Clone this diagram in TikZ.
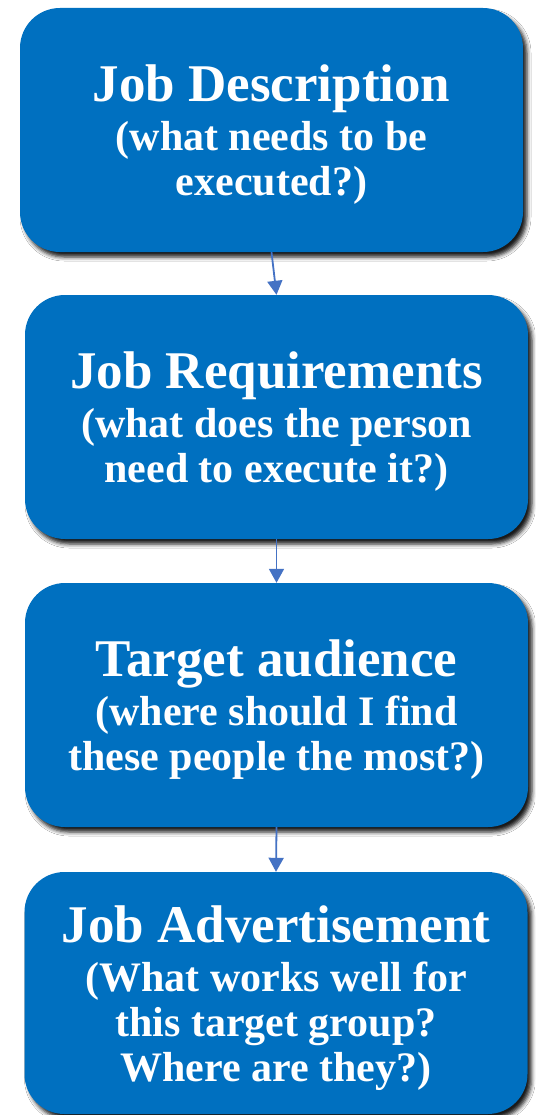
\documentclass[tikz,border=0pt]{standalone}
\usepackage{fontspec}
\setmainfont{Liberation Serif}
\usetikzlibrary{shadows.blur,arrows.meta}
\definecolor{boxblue}{HTML}{0070C0}
\definecolor{arrowblue}{HTML}{4472C4}
\newcommand{\ttl}[1]{{\fontsize{53}{45}\selectfont #1}}
\tikzset{
  stepbox/.style={rectangle, rounded corners=40pt, fill=boxblue, draw=none,
    minimum width=503pt, minimum height=244pt, inner sep=0pt,
    blur shadow={shadow xshift=4pt, shadow yshift=-5pt, shadow blur radius=4pt, shadow opacity=90}},
  steptext/.style={text=white, align=center, inner sep=0pt,
    font=\fontsize{42}{45}\selectfont\bfseries},
  flow/.style={draw=arrowblue, line width=1.8pt, -{Triangle[width=15pt,length=14pt]}}
}
\begin{document}
\begin{tikzpicture}[x=1pt,y=-1pt]
\useasboundingbox (0,0) rectangle (535,1115);
\fill[white] (0,0) rectangle (535,1115);
\node[stepbox] (b1) at (271.5,130) {};
\node[stepbox] (b2) at (276.5,417) {};
\node[stepbox] (b3) at (276.5,705) {};
\node[stepbox, minimum height=242pt] (b4) at (276,993) {};
\node[steptext] (t1) at ([yshift=-5pt]b1.center) {\ttl{Job Description}\\[4pt](what needs to be\\executed?)};
\node[steptext] (t2) at ([yshift=-5pt]b2.center) {\ttl{Job Requirements}\\[4pt](what does the person\\need to execute it?)};
\node[steptext] (t3) at ([yshift=-5pt]b3.center) {\ttl{Target audience}\\[4pt](where should I find\\these people the most?)};
\node[steptext] (t4) at ([yshift=-5pt]b4.center) {\ttl{Job Advertisement}\\[4pt](What works well for\\this target group?\\Where are they?)};
\draw[flow] (b1.south) -- (b2.north);
\draw[flow] (b2.south) -- (b3.north);
\draw[flow] (b3.south) -- (b4.north);
\end{tikzpicture}
\end{document}
